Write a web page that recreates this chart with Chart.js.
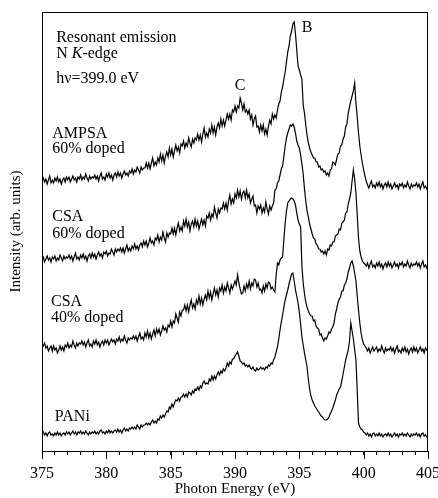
<!DOCTYPE html>
<html>
<head>
<meta charset="utf-8">
<script src="https://cdn.jsdelivr.net/npm/chart.js@4/dist/chart.umd.min.js"></script>
<style>
  html, body { margin: 0; padding: 0; background: #fff; }
  #box { width: 438px; height: 498px; }
</style>
</head>
<body>
<div id="box"><canvas id="spectraChart"></canvas></div>
<script>
// Photon energy grid (eV), one row per eV
const energy = [
  375, 375.1, 375.2, 375.3, 375.4, 375.5, 375.6, 375.7, 375.8, 375.9,
  376, 376.1, 376.2, 376.3, 376.4, 376.5, 376.6, 376.7, 376.8, 376.9,
  377, 377.1, 377.2, 377.3, 377.4, 377.5, 377.6, 377.7, 377.8, 377.9,
  378, 378.1, 378.2, 378.3, 378.4, 378.5, 378.6, 378.7, 378.8, 378.9,
  379, 379.1, 379.2, 379.3, 379.4, 379.5, 379.6, 379.7, 379.8, 379.9,
  380, 380.1, 380.2, 380.3, 380.4, 380.5, 380.6, 380.7, 380.8, 380.9,
  381, 381.1, 381.2, 381.3, 381.4, 381.5, 381.6, 381.7, 381.8, 381.9,
  382, 382.1, 382.2, 382.3, 382.4, 382.5, 382.6, 382.7, 382.8, 382.9,
  383, 383.1, 383.2, 383.3, 383.4, 383.5, 383.6, 383.7, 383.8, 383.9,
  384, 384.1, 384.2, 384.3, 384.4, 384.5, 384.6, 384.7, 384.8, 384.9,
  385, 385.1, 385.2, 385.3, 385.4, 385.5, 385.6, 385.7, 385.8, 385.9,
  386, 386.1, 386.2, 386.3, 386.4, 386.5, 386.6, 386.7, 386.8, 386.9,
  387, 387.1, 387.2, 387.3, 387.4, 387.5, 387.6, 387.7, 387.8, 387.9,
  388, 388.1, 388.2, 388.3, 388.4, 388.5, 388.6, 388.7, 388.8, 388.9,
  389, 389.1, 389.2, 389.3, 389.4, 389.5, 389.6, 389.7, 389.8, 389.9,
  390, 390.1, 390.2, 390.3, 390.4, 390.5, 390.6, 390.7, 390.8, 390.9,
  391, 391.1, 391.2, 391.3, 391.4, 391.5, 391.6, 391.7, 391.8, 391.9,
  392, 392.1, 392.2, 392.3, 392.4, 392.5, 392.6, 392.7, 392.8, 392.9,
  393, 393.1, 393.2, 393.3, 393.4, 393.5, 393.6, 393.7, 393.8, 393.9,
  394, 394.1, 394.2, 394.3, 394.4, 394.5, 394.6, 394.7, 394.8, 394.9,
  395, 395.1, 395.2, 395.3, 395.4, 395.5, 395.6, 395.7, 395.8, 395.9,
  396, 396.1, 396.2, 396.3, 396.4, 396.5, 396.6, 396.7, 396.8, 396.9,
  397, 397.1, 397.2, 397.3, 397.4, 397.5, 397.6, 397.7, 397.8, 397.9,
  398, 398.1, 398.2, 398.3, 398.4, 398.5, 398.6, 398.7, 398.8, 398.9,
  399, 399.1, 399.2, 399.3, 399.4, 399.5, 399.6, 399.7, 399.8, 399.9,
  400, 400.1, 400.2, 400.3, 400.4, 400.5, 400.6, 400.7, 400.8, 400.9,
  401, 401.1, 401.2, 401.3, 401.4, 401.5, 401.6, 401.7, 401.8, 401.9,
  402, 402.1, 402.2, 402.3, 402.4, 402.5, 402.6, 402.7, 402.8, 402.9,
  403, 403.1, 403.2, 403.3, 403.4, 403.5, 403.6, 403.7, 403.8, 403.9,
  404, 404.1, 404.2, 404.3, 404.4, 404.5, 404.6, 404.7, 404.8, 404.9,
  405
];

// intensities (arb. units), curves already stacked as in the figure
const ampsa = [
  270, 273, 269, 272, 267, 271, 275, 268, 271, 268,
  273, 270, 274, 269, 272, 267, 271, 273, 269, 274,
  271, 274, 269, 272, 275, 271, 273, 269, 274, 272,
  276, 271, 274, 272, 277, 273, 270, 275, 272, 274,
  273, 276, 272, 275, 270, 275, 278, 272, 274, 271,
  277, 274, 278, 273, 276, 271, 276, 278, 274, 279,
  275, 278, 273, 277, 280, 276, 278, 275, 280, 278,
  282, 277, 281, 279, 284, 281, 278, 284, 281, 283,
  283, 288, 283, 288, 282, 288, 293, 285, 289, 286,
  293, 289, 297, 290, 296, 288, 295, 299, 294, 303,
  296, 302, 294, 300, 306, 300, 304, 298, 307, 305,
  310, 303, 308, 305, 313, 308, 304, 312, 308, 313,
  311, 317, 311, 316, 309, 317, 323, 314, 318, 314,
  322, 318, 326, 318, 324, 316, 324, 328, 323, 332,
  325, 331, 325, 331, 337, 332, 337, 331, 341, 339,
  345, 339, 345, 343, 353, 348, 341, 347, 339, 341,
  337, 341, 332, 336, 326, 332, 335, 324, 325, 319,
  326, 320, 326, 317, 322, 316, 325, 331, 327, 337,
  332, 336, 333, 341, 347, 350, 359, 364, 372, 379,
  389, 399, 405, 415, 420, 427, 429, 417, 401, 385,
  381, 376, 372, 346, 338, 326, 316, 308, 303, 299,
  296, 293, 293, 289, 289, 284, 285, 281, 282, 279,
  280, 276, 278, 275, 281, 282, 289, 288, 286, 292,
  297, 298, 305, 306, 312, 315, 324, 327, 338, 344,
  350, 355, 360, 368, 348, 334, 318, 305, 296, 288,
  281, 275, 270, 266, 263, 267, 270, 264, 266, 263,
  268, 265, 269, 264, 267, 262, 266, 268, 264, 269,
  264, 267, 262, 265, 268, 264, 266, 262, 267, 265,
  268, 263, 266, 264, 269, 265, 262, 267, 264, 266,
  265, 268, 264, 267, 262, 266, 269, 263, 265, 262,
  265
];

const csa60 = [
  191, 194, 189, 192, 195, 191, 193, 189, 194, 192,
  195, 190, 193, 191, 196, 193, 190, 195, 192, 194,
  193, 196, 192, 195, 190, 194, 198, 192, 194, 191,
  196, 193, 197, 192, 195, 190, 195, 197, 193, 198,
  194, 197, 192, 196, 199, 195, 197, 193, 199, 197,
  200, 195, 198, 197, 202, 199, 196, 202, 199, 202,
  200, 203, 199, 203, 198, 202, 206, 200, 203, 200,
  205, 202, 207, 202, 205, 201, 206, 208, 204, 210,
  206, 210, 204, 208, 213, 208, 210, 206, 213, 211,
  216, 209, 214, 211, 219, 213, 209, 218, 214, 218,
  217, 223, 217, 223, 216, 223, 228, 220, 224, 220,
  230, 225, 232, 224, 229, 220, 227, 230, 224, 232,
  225, 230, 222, 227, 232, 226, 231, 225, 235, 233,
  238, 231, 237, 234, 244, 238, 233, 242, 238, 243,
  242, 248, 242, 248, 241, 250, 256, 247, 252, 248,
  257, 253, 261, 254, 260, 252, 258, 260, 253, 261,
  253, 257, 248, 252, 255, 245, 246, 238, 245, 242,
  246, 238, 243, 239, 249, 242, 237, 245, 241, 245,
  248, 261, 262, 268, 270, 276, 282, 285, 295, 305,
  313, 318, 322, 326, 325, 327, 324, 318, 310, 306,
  303, 296, 287, 277, 262, 250, 240, 234, 227, 222,
  217, 213, 212, 207, 206, 202, 202, 199, 200, 197,
  200, 196, 202, 201, 206, 205, 209, 209, 215, 216,
  217, 222, 221, 228, 229, 231, 238, 239, 247, 252,
  258, 270, 281, 272, 258, 236, 213, 200, 194, 190,
  188, 187, 185, 188, 183, 187, 190, 184, 186, 183,
  188, 185, 189, 184, 187, 182, 186, 188, 184, 189,
  185, 188, 183, 186, 189, 185, 187, 183, 188, 186,
  189, 184, 187, 185, 190, 186, 183, 188, 185, 187,
  186, 189, 185, 188, 183, 187, 190, 184, 186, 183,
  186
];

const csa40 = [
  108, 105, 108, 103, 105, 100, 103, 105, 100, 105,
  101, 103, 98, 101, 105, 101, 104, 100, 106, 104,
  108, 103, 106, 104, 110, 106, 103, 108, 105, 108,
  107, 110, 106, 109, 104, 108, 111, 105, 107, 104,
  110, 107, 111, 106, 109, 104, 108, 110, 106, 111,
  108, 111, 106, 109, 112, 109, 111, 107, 112, 110,
  114, 109, 112, 110, 115, 111, 108, 113, 111, 113,
  112, 115, 112, 115, 110, 114, 118, 112, 114, 111,
  118, 114, 120, 113, 118, 112, 117, 121, 115, 122,
  118, 122, 116, 120, 125, 121, 123, 119, 126, 124,
  130, 124, 130, 128, 137, 133, 129, 139, 135, 141,
  141, 146, 140, 146, 139, 146, 151, 143, 147, 142,
  151, 147, 155, 147, 153, 146, 152, 156, 151, 160,
  153, 159, 151, 157, 163, 156, 161, 154, 163, 160,
  166, 158, 164, 160, 168, 163, 158, 166, 162, 166,
  170, 166, 176, 168, 162, 157, 158, 165, 160, 167,
  163, 170, 162, 168, 165, 172, 171, 164, 168, 161,
  162, 158, 165, 160, 167, 163, 169, 168, 162, 164,
  161, 159, 176, 188, 186, 191, 193, 194, 212, 228,
  240, 248, 250, 252, 253, 252, 250, 246, 238, 231,
  227, 224, 185, 168, 157, 149, 144, 140, 137, 135,
  135, 130, 131, 125, 123, 122, 116, 117, 113, 110,
  113, 112, 115, 119, 118, 122, 124, 128, 137, 142,
  148, 152, 154, 160, 160, 166, 168, 172, 179, 183,
  188, 190, 185, 178, 170, 155, 141, 128, 118, 111,
  107, 105, 103, 100, 103, 98, 101, 104, 100, 102,
  104, 99, 102, 100, 105, 101, 98, 103, 100, 102,
  101, 104, 100, 103, 98, 102, 105, 99, 101, 98,
  103, 100, 104, 99, 102, 97, 101, 103, 99, 104,
  100, 103, 98, 101, 104, 100, 102, 98, 103, 101,
  102
];

const pani = [
  17, 19, 16, 18, 15, 18, 19, 16, 17, 15,
  18, 16, 19, 16, 18, 15, 17, 18, 16, 19,
  17, 19, 16, 18, 20, 17, 19, 16, 19, 18,
  20, 17, 19, 17, 20, 18, 16, 19, 17, 19,
  18, 20, 17, 19, 17, 20, 21, 18, 19, 17,
  20, 18, 21, 18, 20, 18, 20, 21, 19, 22,
  19, 21, 18, 21, 23, 20, 22, 20, 23, 22,
  24, 22, 24, 22, 26, 24, 22, 26, 24, 26,
  26, 28, 26, 28, 26, 29, 31, 28, 30, 28,
  32, 31, 35, 33, 36, 34, 37, 40, 39, 44,
  42, 47, 44, 48, 51, 50, 53, 50, 54, 54,
  57, 54, 57, 54, 59, 58, 56, 60, 58, 62,
  61, 64, 61, 65, 63, 68, 70, 67, 68, 67,
  72, 70, 75, 71, 75, 72, 76, 79, 76, 80,
  78, 82, 80, 83, 88, 85, 89, 87, 92, 92,
  95, 97, 99, 95, 90, 89, 87, 88, 85, 86,
  84, 86, 83, 82, 84, 81, 80, 83, 81, 82,
  84, 82, 83, 81, 84, 83, 86, 85, 88, 87,
  91, 94, 99, 104, 112, 121, 129, 136, 144, 151,
  156, 161, 167, 172, 177, 178, 170, 161, 155, 148,
  139, 127, 114, 106, 98, 91, 84, 72, 62, 55,
  51, 48, 45, 43, 41, 39, 37, 35, 34, 32,
  31, 31, 32, 34, 37, 40, 43, 47, 51, 56,
  59, 62, 64, 70, 77, 84, 91, 96, 101, 110,
  128, 120, 112, 101, 91, 60, 28, 24, 22, 21,
  19, 18, 16, 18, 15, 17, 14, 17, 18, 15,
  17, 15, 18, 15, 17, 14, 16, 17, 15, 18,
  15, 17, 14, 16, 18, 15, 17, 14, 17, 16,
  18, 15, 17, 15, 18, 16, 14, 17, 15, 17,
  16, 18, 15, 17, 14, 17, 18, 15, 16, 14,
  16
];

const seriesNames = ['AMPSA 60% doped', 'CSA 60% doped', 'CSA 40% doped', 'PANi'];
const tickLabels = [375, 380, 385, 390, 395, 400, 405];

const serif = "'Liberation Serif', 'Times New Roman', serif";
Chart.defaults.font.family = serif;
Chart.defaults.color = '#000';

function toPoints(values) {
    return energy.map((e, i) => ({ x: e, y: values[i] }));
}

// frame, long ticks and the text labels inside the plot
const decorations = {
    id: 'decorations',
    afterDraw(chart) {
        const { ctx, chartArea, scales } = chart;
        const xs = scales.x, ys = scales.y;
        ctx.save();
        ctx.strokeStyle = '#000';
        ctx.lineWidth = 1;
        ctx.strokeRect(chartArea.left + 0.5, chartArea.top + 0.5,
            chartArea.right - chartArea.left - 1, chartArea.bottom - chartArea.top);

        // major ticks are longer
        tickLabels.forEach(v => {
            const px = Math.round(xs.getPixelForValue(v)) + 0.5;
            ctx.beginPath();
            ctx.moveTo(px, chartArea.bottom);
            ctx.lineTo(px, chartArea.bottom + 8);
            ctx.stroke();
        });

        ctx.fillStyle = '#000';
        ctx.textBaseline = 'middle';
        ctx.font = '16px ' + serif;
        const put = (txt, e, v, align) => {
            ctx.textAlign = align || 'left';
            ctx.fillText(txt, xs.getPixelForValue(e), ys.getPixelForValue(v));
        };

        put('Resonant emission', 376.1, 413);
        // "N K-edge" with italic K
        let x0 = xs.getPixelForValue(376.1);
        const yK = ys.getPixelForValue(397);
        ctx.textAlign = 'left';
        ctx.fillText('N ', x0, yK);
        x0 += ctx.measureText('N ').width;
        ctx.font = 'italic 16px ' + serif;
        ctx.fillText('K', x0, yK);
        x0 += ctx.measureText('K').width;
        ctx.font = '16px ' + serif;
        ctx.fillText('-edge', x0, yK);

        put('h\u03bd=399.0 eV', 376.1, 372);
        put('C', 390.4, 365, 'center');
        put('B', 395.6, 423, 'center');

        put('AMPSA', 375.8, 317);
        put('60% doped', 375.8, 302);
        put('CSA', 375.8, 234);
        put('60% doped', 375.8, 217);
        put('CSA', 375.7, 149);
        put('40% doped', 375.7, 133);
        put('PANi', 376.0, 34);
        ctx.restore();
    }
};

const ctx = document.getElementById('spectraChart').getContext('2d');
const spectraChart = new Chart(ctx, {
    type: 'line',
    data: {
        datasets: [ampsa, csa60, csa40, pani].map((vals, i) => ({
            label: seriesNames[i],
            data: toPoints(vals),
            borderColor: '#000',
            borderWidth: 1.2,
            pointRadius: 0,
            tension: 0,
            fill: false
        }))
    },
    options: {
        responsive: true,
        maintainAspectRatio: false,
        animation: false,
        layout: { padding: { left: 0, right: 10, top: 12, bottom: 0 } },
        plugins: {
            legend: { display: false },
            tooltip: { enabled: false }
        },
        scales: {
            x: {
                type: 'linear',
                min: 375,
                max: 405,
                grid: { drawOnChartArea: false, tickLength: 4, color: '#000' },
                border: { color: '#000' },
                ticks: {
                    stepSize: 1,
                    autoSkip: false,
                    maxRotation: 0,
                    padding: 9,
                    font: { size: 16 },
                    callback: v => (tickLabels.includes(v) ? String(v) : '')
                },
                title: {
                    display: true,
                    text: 'Photon Energy (eV)',
                    font: { size: 15 },
                    padding: { top: 0, bottom: 0 }
                },
                afterFit: s => {
                    s.height = 47;
                    // let the last label run to the edge like in the figure
                    s.paddingLeft = 0;
                    s.paddingRight = 0;
                }
            },
            y: {
                min: 0,
                max: 439,
                grid: { display: false },
                border: { color: '#000' },
                ticks: { display: false },
                title: {
                    display: true,
                    text: 'Intensity (arb. units)',
                    font: { size: 15 },
                    padding: { top: 7, bottom: 0 }
                },
                afterFit: s => { s.width = 42; }
            }
        }
    },
    plugins: [decorations]
});
</script>
</body>
</html>
